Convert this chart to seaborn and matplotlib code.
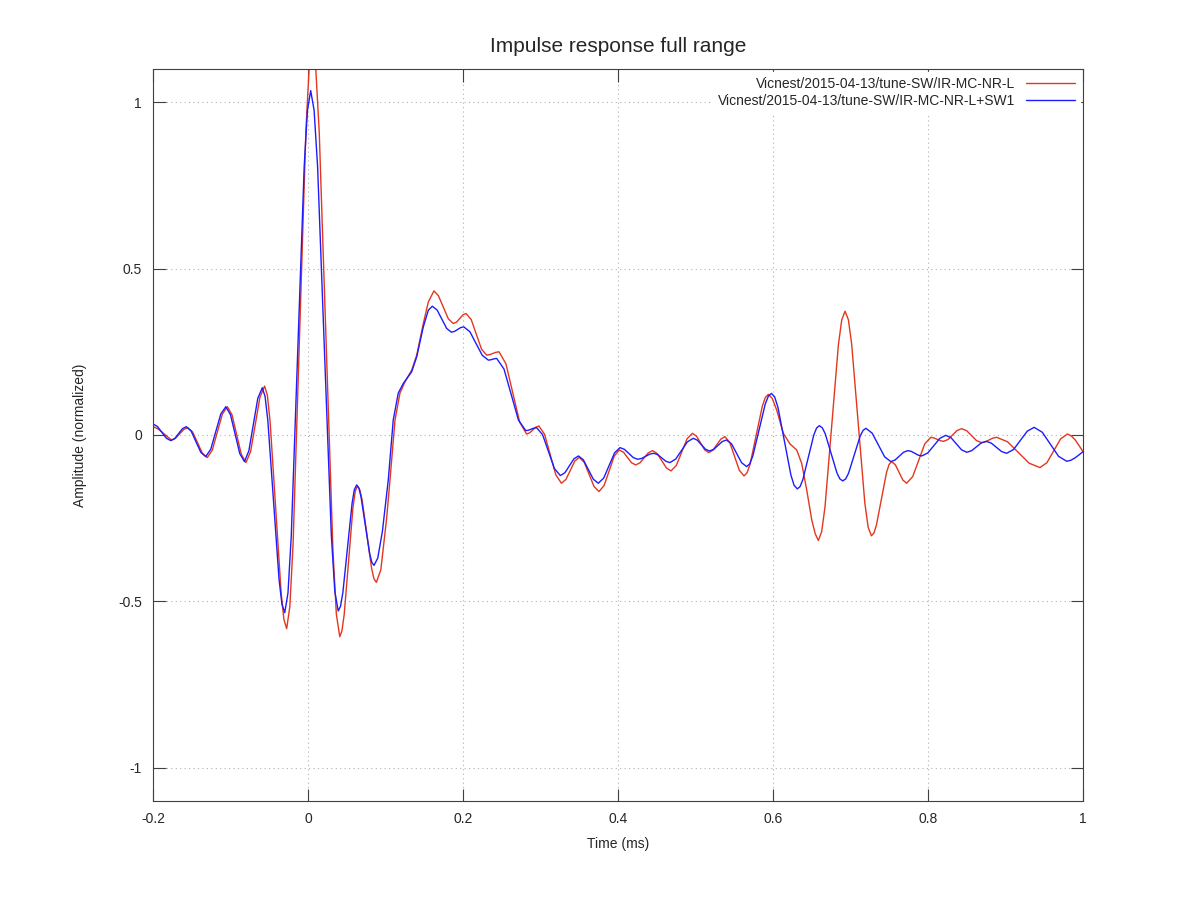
import numpy as np
import pandas as pd
import seaborn as sns
import matplotlib.pyplot as plt

# (time in ms, normalized amplitude)
red_points = [
    (-0.200, 0.025), (-0.194, 0.019), (-0.188, 0.008), (-0.182, -0.004), (-0.176, -0.015),
    (-0.1708, -0.0096), (-0.1655, 0.0035), (-0.1603, 0.0166), (-0.155, 0.022),
    (-0.1488, 0.0089), (-0.1425, -0.023), (-0.1363, -0.0549), (-0.130, -0.068),
    (-0.1235, -0.0457), (-0.117, 0.0085), (-0.1105, 0.0627), (-0.104, 0.085),
    (-0.098, 0.0605), (-0.092, 0.001), (-0.086, -0.0585), (-0.080, -0.083),
    (-0.074, -0.0494), (-0.068, 0.032), (-0.062, 0.1134), (-0.056, 0.147),
    (-0.0524, 0.1193), (-0.0489, 0.0406), (-0.0418, -0.2175), (-0.0346, -0.4756),
    (-0.0311, -0.5543), (-0.0275, -0.582), (-0.0234, -0.5154),
    (-0.0192, -0.326), (-0.011, 0.294), (-0.0027, 0.914), (0.0015, 1.1034), (0.0056, 1.170),
    (0.0100, 1.1025), (0.0145, 0.911), (0.0233, 0.282), (0.0322, -0.347),
    (0.0366, -0.5385), (0.041, -0.606), (0.0438, -0.5888),
    (0.0467, -0.540), (0.0524, -0.3795), (0.0580, -0.219), (0.0609, -0.1702), (0.0637, -0.153),
    (0.0668, -0.164), (0.0698, -0.195), (0.0760, -0.298), (0.0821, -0.401),
    (0.0851, -0.432), (0.0882, -0.443),
    (0.094, -0.405), (0.1015, -0.250), (0.1058, -0.135), (0.1123, 0.045),
    (0.1187, 0.126), (0.1252, 0.160), (0.1338, 0.195), (0.1403, 0.240),
    (0.1488, 0.335), (0.1553, 0.400), (0.1625, 0.433), (0.1682, 0.419),
    (0.1746, 0.384), (0.1811, 0.349), (0.1875, 0.335), (0.1916, 0.339),
    (0.1958, 0.350), (0.1999, 0.361), (0.204, 0.365), (0.2106, 0.347),
    (0.2173, 0.3025), (0.2239, 0.258), (0.2305, 0.240), (0.2345, 0.2415),
    (0.2385, 0.245), (0.2425, 0.2485), (0.2465, 0.250), (0.2554, 0.214),
    (0.2643, 0.1265), (0.2731, 0.039), (0.282, 0.003), (0.286, 0.0065),
    (0.290, 0.015), (0.294, 0.0235), (0.298, 0.027), (0.3053, 0.0019),
    (0.3125, -0.059), (0.3198, -0.1199), (0.327, -0.145), (0.3328, -0.1336),
    (0.3385, -0.106), (0.3443, -0.0784), (0.350, -0.067), (0.3564, -0.082),
    (0.3628, -0.1185), (0.3691, -0.155), (0.3755, -0.170), (0.3821, -0.1518),
    (0.3886, -0.1075), (0.3952, -0.0633), (0.4017, -0.045), (0.4070, -0.0516),
    (0.4123, -0.0675), (0.4175, -0.0834), (0.4228, -0.090), (0.4283, -0.0837),
    (0.4338, -0.0685), (0.4392, -0.0533), (0.4447, -0.047), (0.4506, -0.0559),
    (0.4566, -0.0775), (0.4625, -0.0991), (0.4684, -0.108), (0.4753, -0.0915),
    (0.4822, -0.0515), (0.4891, -0.0115), (0.496, 0.005), (0.5013, -0.0035),
    (0.5065, -0.024), (0.5118, -0.0445), (0.517, -0.053), (0.5223, -0.046),
    (0.5275, -0.029), (0.5328, -0.012), (0.538, -0.005), (0.5442, -0.0222),
    (0.5503, -0.064), (0.5565, -0.1058), (0.5626, -0.123), (0.5665, -0.1137), (0.5705, -0.0872),
    (0.5783, -0.0005), (0.5862, 0.0862), (0.5901, 0.1127), (0.594, 0.122), (0.599, 0.110),
    (0.6048, 0.075), (0.6133, 0.005), (0.622, -0.027), (0.6306, -0.045), (0.637, -0.085),
    (0.6435, -0.165), (0.650, -0.255), (0.6545, -0.297), (0.6585, -0.317), (0.6628, -0.2908),
    (0.6671, -0.2164), (0.6758, 0.0275), (0.6844, 0.2714), (0.6887, 0.3458), (0.693, 0.372),
    (0.6973, 0.3463), (0.7015, 0.2735), (0.710, 0.0345), (0.7185, -0.2045),
    (0.7228, -0.2773), (0.727, -0.303), (0.7303, -0.2945), (0.7335, -0.2704),
    (0.740, -0.1915), (0.7465, -0.1126), (0.7498, -0.0885), (0.753, -0.080), (0.7579, -0.0895),
    (0.7628, -0.1125), (0.7676, -0.1355), (0.7725, -0.145), (0.7803, -0.1249),
    (0.788, -0.076), (0.7958, -0.0271), (0.8035, -0.007), (0.8076, -0.0088),
    (0.8118, -0.013), (0.8159, -0.0172), (0.820, -0.019), (0.8259, -0.0135),
    (0.8318, 0.000), (0.8376, 0.0135), (0.8435, 0.019), (0.8499, 0.0129),
    (0.8563, -0.002), (0.8626, -0.0169), (0.869, -0.023), (0.8739, -0.0207),
    (0.8788, -0.015), (0.8837, -0.0093), (0.8886, -0.007), (0.9026, -0.0203),
    (0.9166, -0.0525), (0.9305, -0.0847), (0.9445, -0.098), (0.9534, -0.0833),
    (0.9623, -0.0475), (0.9711, -0.0117), (0.980, 0.003), (0.985, -0.003),
    (0.990, -0.015), (0.995, -0.032), (1.000, -0.050),
]

blue_points = [
    (-0.200, 0.033), (-0.1943, 0.0257), (-0.1885, 0.008), (-0.1828, -0.0097), (-0.177, -0.017),
    (-0.172, -0.0109), (-0.167, 0.004), (-0.162, 0.0189), (-0.157, 0.025),
    (-0.1508, 0.0119), (-0.1445, -0.020), (-0.1383, -0.0519), (-0.132, -0.065),
    (-0.1255, -0.0431), (-0.119, 0.010), (-0.1125, 0.0631), (-0.106, 0.085),
    (-0.100, 0.0609), (-0.094, 0.0025), (-0.088, -0.0559), (-0.082, -0.080),
    (-0.0763, -0.0476), (-0.0705, 0.031), (-0.0648, 0.1096), (-0.059, 0.142),
    (-0.0554, 0.1163), (-0.0518, 0.0433), (-0.0445, -0.196), (-0.0373, -0.4353),
    (-0.0336, -0.5083), (-0.030, -0.534), (-0.0258, -0.4744),
    (-0.0216, -0.3049), (-0.0133, 0.2505), (-0.0049, 0.806), (-0.0007, 0.9754), (0.0035, 1.035),
    (0.0079, 0.9756), (0.0124, 0.8067), (0.0213, 0.253), (0.0301, -0.3007),
    (0.0346, -0.4696), (0.039, -0.529), (0.042, -0.5146),
    (0.045, -0.4737), (0.0509, -0.3395), (0.0569, -0.2053), (0.0598, -0.1644), (0.0628, -0.150),
    (0.0656, -0.1592), (0.0684, -0.1853), (0.074, -0.271), (0.0796, -0.3567),
    (0.0824, -0.3828), (0.0852, -0.392),
    (0.090, -0.370), (0.096, -0.290), (0.1036, -0.135), (0.110, 0.045),
    (0.1165, 0.126), (0.123, 0.155), (0.1338, 0.190), (0.1403, 0.235),
    (0.1488, 0.325), (0.1553, 0.375), (0.1604, 0.387), (0.1666, 0.3756),
    (0.1727, 0.348), (0.1789, 0.3204), (0.185, 0.309), (0.189, 0.3113),
    (0.193, 0.317), (0.197, 0.3227), (0.201, 0.325), (0.2089, 0.3104),
    (0.2169, 0.275), (0.2248, 0.2396), (0.2327, 0.225), (0.2354, 0.2257),
    (0.2381, 0.2275), (0.2408, 0.2293), (0.2435, 0.230), (0.2529, 0.1983),
    (0.2623, 0.1215), (0.2716, 0.0447), (0.281, 0.013), (0.2845, 0.0143),
    (0.288, 0.0175), (0.2915, 0.0207), (0.295, 0.022), (0.3027, 0.001),
    (0.3103, -0.050), (0.318, -0.101), (0.3256, -0.122), (0.3315, -0.1134),
    (0.3373, -0.0925), (0.3432, -0.0716), (0.349, -0.063), (0.3554, -0.075),
    (0.3618, -0.104), (0.3682, -0.133), (0.3746, -0.145), (0.3816, -0.1294),
    (0.3886, -0.0915), (0.3956, -0.0536), (0.4026, -0.038), (0.4083, -0.0431),
    (0.414, -0.0555), (0.4197, -0.0679), (0.4254, -0.073), (0.4306, -0.0704),
    (0.4357, -0.064), (0.4409, -0.0576), (0.446, -0.055), (0.4513, -0.0591),
    (0.4565, -0.069), (0.4618, -0.0789), (0.467, -0.083), (0.4745, -0.0723),
    (0.482, -0.0465), (0.4895, -0.0207), (0.497, -0.010), (0.5023, -0.0155),
    (0.5075, -0.029), (0.5128, -0.0425), (0.518, -0.048), (0.5235, -0.0432),
    (0.529, -0.0315), (0.5345, -0.0198), (0.540, -0.015), (0.5465, -0.0267),
    (0.553, -0.055), (0.5595, -0.0833), (0.566, -0.095), (0.570, -0.0866), (0.574, -0.0629),
    (0.582, 0.015), (0.590, 0.0929), (0.594, 0.1166), (0.598, 0.125), (0.6022, 0.1141),
    (0.6064, 0.0831), (0.6147, -0.0185), (0.6231, -0.1201), (0.6272, -0.1511), (0.6314, -0.162),
    (0.635, -0.1548), (0.6385, -0.1343), (0.6456, -0.067), (0.6527, 0.0003), (0.6562, 0.0208),
    (0.6598, 0.028), (0.6636, 0.0217), (0.6674, 0.0038), (0.6749, -0.055), (0.6825, -0.1138),
    (0.6862, -0.1317), (0.690, -0.138), (0.6938, -0.132), (0.6975, -0.1149),
    (0.705, -0.059), (0.7125, -0.0031), (0.7163, 0.014), (0.720, 0.020), (0.728, 0.0054),
    (0.736, -0.030), (0.744, -0.0654), (0.752, -0.080), (0.7575, -0.0752),
    (0.763, -0.0635), (0.7685, -0.0518), (0.774, -0.047), (0.7785, -0.0493),
    (0.783, -0.055), (0.7875, -0.0607), (0.792, -0.063), (0.7998, -0.0539),
    (0.8075, -0.032), (0.8153, -0.0101), (0.823, -0.001), (0.8298, -0.0084),
    (0.8365, -0.0265), (0.8433, -0.0446), (0.850, -0.052), (0.8563, -0.0472),
    (0.8625, -0.0355), (0.8688, -0.0238), (0.875, -0.019), (0.8816, -0.0243),
    (0.8883, -0.037), (0.8949, -0.0497), (0.9015, -0.055), (0.9104, -0.0436),
    (0.9193, -0.016), (0.9281, 0.0116), (0.937, 0.023), (0.9475, 0.0081),
    (0.958, -0.028), (0.9685, -0.0641), (0.979, -0.079), (0.9843, -0.076),
    (0.9895, -0.069), (0.9948, -0.060), (1.000, -0.050),
]

red_name = "Vicnest/2015-04-13/tune-SW/IR-MC-NR-L"
blue_name = "Vicnest/2015-04-13/tune-SW/IR-MC-NR-L+SW1"

x_ticks = [-0.2, 0, 0.2, 0.4, 0.6, 0.8, 1]
x_labels = ["-0.2", "0", "0.2", "0.4", "0.6", "0.8", "1"]
y_ticks = [-1, -0.5, 0, 0.5, 1]
y_labels = ["-1", "-0.5", "0", "0.5", "1"]

red_df = pd.DataFrame(red_points, columns=["t", "v"])
red_df["series"] = red_name
blue_df = pd.DataFrame(blue_points, columns=["t", "v"])
blue_df["series"] = blue_name
df = pd.concat([red_df, blue_df], ignore_index=True)

sns.set_theme(style="white")
plt.rcParams['font.family'] = ['Liberation Sans', 'DejaVu Sans']

fig, ax = plt.subplots(figsize=(11.98, 8.98), dpi=100)
fig.subplots_adjust(left=0.1277, right=0.904, top=0.9232, bottom=0.108)

sns.lineplot(data=df, x="t", y="v", hue="series",
             palette={red_name: "#e4361f", blue_name: "#1c1cff"},
             estimator=None, sort=False, linewidth=1.0, ax=ax)

ax.set_xlim(-0.2, 1)
ax.set_ylim(-1.1, 1.1)
ax.set_xticks(x_ticks)
ax.set_xticklabels(x_labels)
ax.set_yticks(y_ticks)
ax.set_yticklabels(y_labels)
ax.tick_params(direction="in", length=9, width=0.8, top=True, right=True,
               bottom=True, left=True, color="#404040", labelsize=10, pad=8)
ax.grid(True, linestyle=(0, (1, 3)), color="#b0b0b0", linewidth=0.8)
for s in ax.spines.values():
    s.set_color("#404040")
    s.set_linewidth(0.8)

ax.set_title("Impulse response full range", fontsize=15, pad=12)
ax.set_xlabel("Time (ms)", fontsize=10, labelpad=8)
ax.set_ylabel("Amplitude (normalized)", fontsize=10, labelpad=22)

ax.legend(loc="upper right", markerfirst=False, frameon=True, facecolor="white",
          edgecolor="white", framealpha=1, fontsize=10, handlelength=3.5,
          borderaxespad=0.2, labelspacing=0.2, title=None)

fig.savefig("out.png", dpi=100)
